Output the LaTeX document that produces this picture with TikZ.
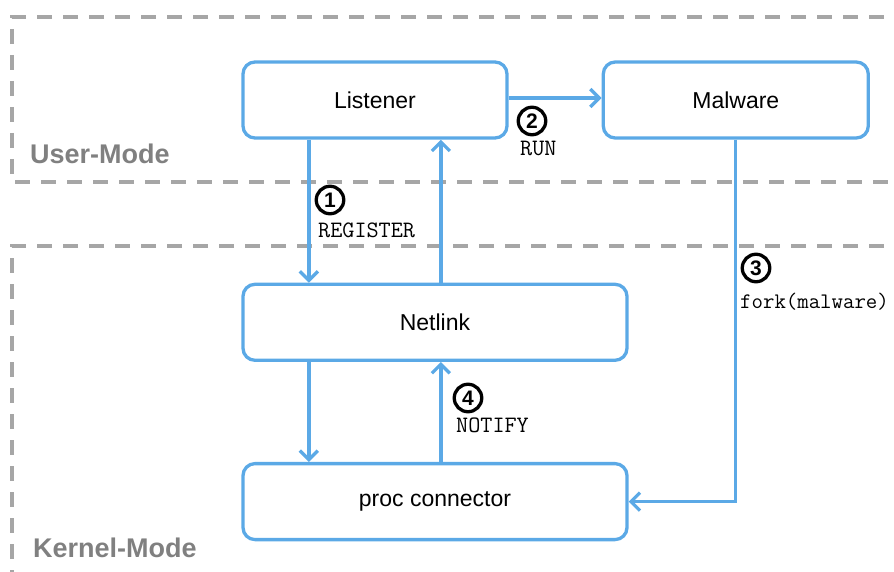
\documentclass[tikz,border=0pt]{standalone}
\usepackage{fontspec}
\setmainfont{Liberation Sans}
\usetikzlibrary{arrows.meta,positioning}
\definecolor{skyblue}{HTML}{5BA9E6}
\definecolor{dashgray}{HTML}{A6A6A6}
\definecolor{modegray}{HTML}{808080}

\begin{document}
\begin{tikzpicture}[x=1pt,y=-1pt,>={Straight Barb[length=9pt,width=18pt]},node distance=100pt and 93pt]
  \tikzset{block/.style={draw=skyblue,line width=3.3pt,rounded corners=12pt,minimum height=76pt,font=\fontsize{23}{27}\selectfont},
    flow/.style={->,draw=skyblue,line width=3.3pt},
    region/.style={draw=dashgray,line width=3.3pt,dash pattern=on 15pt off 11pt},
    modename/.style={text=modegray,font=\bfseries\fontsize{27}{32}\selectfont,inner sep=0pt,anchor=base west},
    stepno/.style={circle,draw=black,line width=3.3pt,minimum size=27.5pt,inner sep=0pt,font=\bfseries\fontsize{21}{23}\selectfont},
    cmd/.style={font=\ttfamily\fontsize{23.5}{27}\selectfont,inner sep=0pt,anchor=base west}}
  \useasboundingbox (0,0) rectangle (894,572);
  % user and kernel regions
  \draw[region] (910,17) -| (12,182) -- (910,182);
  \draw[region] (910,246) -| (12,590);
  \node[modename] (user) at (30,164) {User-Mode};
  \node[modename] (kernel) at (33,557) {Kernel-Mode};
  % boxes
  \node[block,minimum width=264pt] (listener) at (375,100) {Listener};
  \node[block,minimum width=265pt,right=of listener] (malware) {Malware};
  \node[block,minimum width=384pt,below=143pt of listener.south west,anchor=north west] (netlink) {Netlink};
  \node[block,minimum width=384pt,below=of netlink] (proc) {proc connector};
  % connectors
  \draw[flow] ([xshift=67.5pt]listener.south west) -- ([xshift=67.5pt]netlink.north west);
  \draw[flow] ([xshift=199.5pt]netlink.north west) -- ([xshift=199.5pt]listener.south west);
  \draw[flow] ([yshift=2pt]listener.east) -- ([yshift=2pt]malware.west);
  \draw[flow] (malware.south) |- (proc.east);
  \draw[flow] ([xshift=67.5pt]netlink.south west) -- ([xshift=67.5pt]proc.north west);
  \draw[flow] ([xshift=199.5pt]proc.north west) -- ([xshift=199.5pt]netlink.south west);
  % step labels
  \node[stepno] (s1) at (330,200) {1};
  \node[cmd] (register) at (318,237) {REGISTER};
  \node[stepno] (s2) at (532,121) {2};
  \node[cmd] (run) at (520,156) {RUN};
  \node[stepno] (s3) at (756,268) {3};
  \node[cmd,font=\ttfamily\fontsize{22.2}{26}\selectfont] (fork) at (740,308) {fork(malware)};
  \node[stepno] (s4) at (468,398) {4};
  \node[cmd] (notify) at (456,432) {NOTIFY};
\end{tikzpicture}
\end{document}
